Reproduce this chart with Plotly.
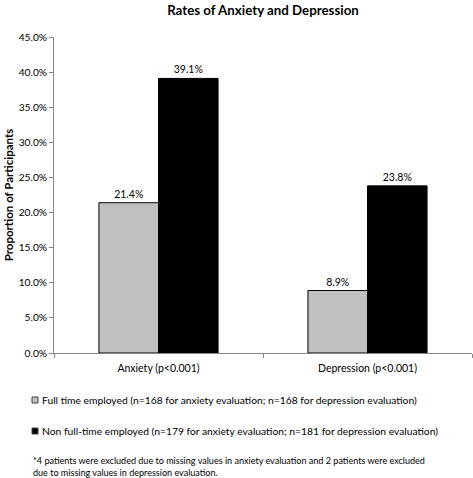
import plotly.graph_objects as go

categories = ["Anxiety (p<0.001)", "Depression (p<0.001)"]
full_time = [0.214, 0.089]
non_full_time = [0.391, 0.238]
series_names = [
    "Full time employed (n=168 for anxiety evaluation; n=168 for depression evaluation)",
    "Non full-time employed (n=179 for anxiety evaluation; n=181 for depression evaluation)",
]
series_colors = ["#c0c0c0", "#000000"]
footnote = ("*4 patients were excluded due to missing values in anxiety evaluation and 2 patients were excluded"
            "<br>due to missing values in depression evaluation.")

FONT = "Lato, Open Sans, sans-serif"
W, H = 473, 478
L, R, T, B = 54, 1, 37, 125
PW, PH = W - L - R, H - T - B


def px_x(px):
    return (px - L) / PW


def px_y(py):
    return (H - B - py) / PH


fig = go.Figure()
for vals, name, col in zip([full_time, non_full_time], series_names, series_colors):
    fig.add_trace(go.Bar(
        x=categories, y=vals, name=name, showlegend=False,
        marker=dict(color=col, line=dict(color="black", width=1)),
        text=[f"{v*100:.1f}%" for v in vals], textposition="outside",
        textfont=dict(size=10.5, color="black", family=FONT), cliponaxis=False,
    ))

shapes = []
annotations = []
legend_rows = [400, 431]
for name, col, row in zip(series_names, series_colors, legend_rows):
    shapes.append(dict(type="rect", xref="paper", yref="paper",
                       x0=px_x(32), x1=px_x(38), y0=px_y(row + 3), y1=px_y(row - 3),
                       fillcolor=col, line=dict(color="#404040", width=1)))
    annotations.append(dict(text=name, xref="paper", yref="paper", x=px_x(39.5), y=px_y(row),
                            xanchor="left", yanchor="middle", showarrow=False,
                            font=dict(size=10.3, color="black")))
annotations.append(dict(text=footnote, xref="paper", yref="paper", x=px_x(31), y=px_y(466.5),
                        xanchor="left", yanchor="middle", align="left", showarrow=False,
                        font=dict(size=9.05, color="black")))

fig.update_layout(
    width=W, height=H,
    margin=dict(l=L, r=R, t=T, b=B, autoexpand=False),
    paper_bgcolor="white", plot_bgcolor="white",
    font=dict(family=FONT, size=11, color="black"),
    title=dict(text="<b>Rates of Anxiety and Depression</b>", x=0.5, xref="paper",
               y=1 - 10 / H, yanchor="middle", font=dict(size=13.3, color="black")),
    barmode="group", bargap=0.43, bargroupgap=0,
    showlegend=False,
    xaxis=dict(showline=True, linecolor="#868686", linewidth=1, ticks="outside",
               tickson="boundaries", ticklen=4, tickcolor="#868686", automargin=False,
               tickfont=dict(size=10.5), showgrid=False, ticklabelstandoff=5),
    yaxis=dict(range=[0, 0.45], dtick=0.05, tickformat=".1%", showline=True,
               linecolor="#868686", linewidth=1, ticks="outside", ticklen=4,
               tickcolor="#868686", showgrid=False, zeroline=False, automargin=False,
               tickfont=dict(size=10.2),
               title=dict(text="<b>Proportion of Participants</b>", font=dict(size=11.5), standoff=2)),
    shapes=shapes,
    annotations=annotations,
)

fig.write_html("out.html", config={"displayModeBar": False},
               post_script="document.body.style.margin='0';")
